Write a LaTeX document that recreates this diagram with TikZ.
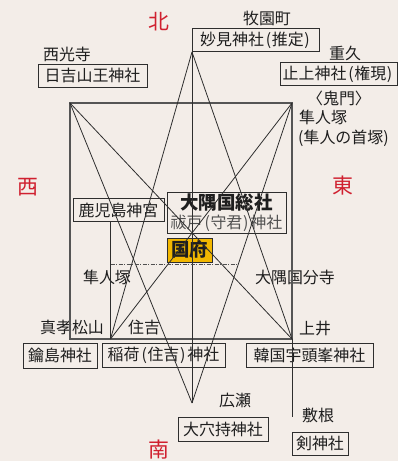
\documentclass[tikz,border=0pt]{standalone}
\usepackage{fontspec}
\setmainfont{Noto Sans CJK JP}
\definecolor{bg}{HTML}{F3EDE8}
\definecolor{dirred}{HTML}{D0202F}
\definecolor{gold}{HTML}{F2B700}
\definecolor{txt}{HTML}{1E1E1E}
\definecolor{lnc}{HTML}{2E2E2E}
\definecolor{rectc}{HTML}{555555}
\definecolor{gray2}{HTML}{505050}
\newcommand{\lpar}{\kern.12em(\kern.04em}
\newcommand{\rpar}{\kern.04em)\kern.12em}
\begin{document}
\begin{tikzpicture}[x=1bp,y=-1bp,
  every node/.style={inner sep=0pt, text=txt, font=\fontsize{16}{18}\selectfont},
  box/.style={draw=lnc, line width=0.9bp, minimum height=23bp},
  ln/.style={draw=lnc, line width=0.8bp},
  rectln/.style={draw=rectc, line width=1.1bp},
  dd/.style={draw=gray2, line width=0.6bp, dash pattern=on 4bp off 1.5bp on 1bp off 1.5bp},
  dirlbl/.style={text=dirred, font=\fontsize{21}{23}\selectfont}]
\fill[bg] (0,0) rectangle (398,461);
\useasboundingbox (0,0) rectangle (398,461);

% key points
\coordinate (A) at (70,103);
\coordinate (B) at (292,103);
\coordinate (T) at (192,52);
\coordinate (S) at (192,403);
\coordinate (I) at (110.5,339);
\coordinate (K) at (292,339);
\coordinate (Kb) at (292,417);
\coordinate (ddend) at (237,264);

% direction labels
\node[dirlbl] (n) at (159,22) {北};
\node[dirlbl] (w) at (28,187) {西};
\node[dirlbl] (e) at (343,186) {東};
\node[dirlbl] (s) at (159,450) {南};

% boxes
\node[box, minimum width=127bp, anchor=south west] (myo) at (T) {妙見神社\lpar 推定\rpar};
\node[box, minimum width=117bp] (tome) at (338.5,74) {止上神社\lpar 権現\rpar};
\node[box, minimum width=109bp] (hiyo) at (92.5,76) {日吉山王神社};
\node[box, minimum width=91bp] (kago) at (118.5,210) {鹿児島神宮};
\node[box, minimum width=119bp, minimum height=41bp, align=center,
      font=\fontsize{16}{19}\selectfont] (sosha) at (226.5,212.5)
  {{\fontsize{18.5}{19}\selectfont\bfseries 大隅国総社}\\{\color{gray2}祓戸\lpar 守君\rpar 神社}};
\node[box, fill=gold, minimum width=45bp, minimum height=24bp,
      font=\fontsize{18.5}{20}\selectfont\bfseries] (kok) at (189.5,250) {国府};
\node[box, minimum width=74bp, minimum height=25bp] (kagi) at (60,355.5) {鑰島神社};
\node[box, minimum width=123bp, minimum height=24bp] (inari) at (163.5,355) {稲荷\lpar 住吉\rpar 神社};
\node[box, minimum width=127bp, minimum height=24bp] (kara) at (309.5,355) {韓国宇頭峯神社};
\node[box, minimum width=90bp, minimum height=24bp] (oana) at (223,429) {大穴持神社};
\node[box, minimum width=56bp] (tsuru) at (320,443.5) {剣神社};

% plain labels
\node (maki) at (267,18) {牧園町};
\node (shige) at (345,53) {重久};
\node (kimon) at (339,98) {\kern-.45em〈鬼門〉\kern-.45em};
\node[anchor=west] (hayaR) at (299,117) {隼人塚};
\node[anchor=west] (hayaR2) at (298,138) {(隼人の首塚)};
\node (saiko) at (67,54) {西光寺};
\node (hayaL) at (107,277) {隼人塚};
\node (kokubun) at (295,277) {大隅国分寺};
\node (mako) at (72,327) {真孝松山};
\node (sumi) at (144,327) {住吉};
\node (uwai) at (315,329) {上井};
\node (hiro) at (235,400) {広瀬};
\node (shiki) at (318,415) {敷根};

% lines
\draw[rectln] (A) rectangle (K);
\draw[ln] (T) -- (S);
\draw[ln] (A) -- (S);
\draw[ln] (A) -- (K);
\draw[ln] (B) -- (I);
\draw[ln] (B) -- (S);
\draw[ln] (T) -- (I);
\draw[ln] (T) -- (K);
\draw[ln] (kago.south -| I) -- (I);
\draw[ln] (K) -- (Kb);
\draw[dd] (I |- ddend) -- (ddend);
\end{tikzpicture}
\end{document}
